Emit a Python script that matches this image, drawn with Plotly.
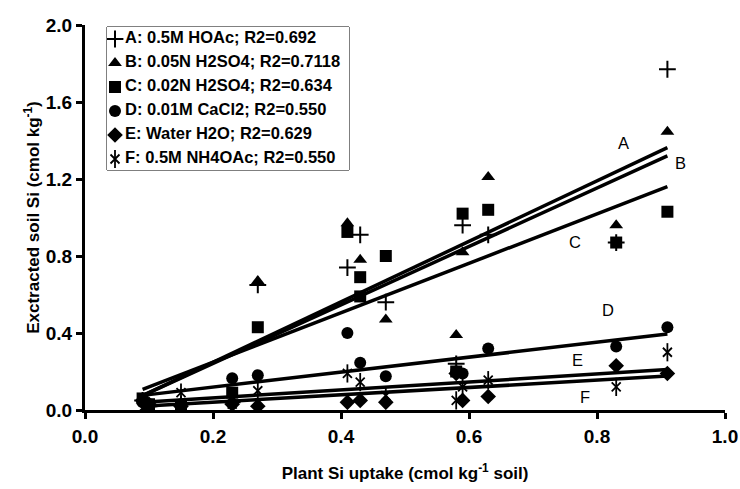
import plotly.graph_objects as go

# ---- data ----
uptake = [0.09, 0.10, 0.15, 0.23, 0.27, 0.41, 0.43, 0.47, 0.58, 0.59, 0.63, 0.83, 0.91]
series_names = ["A: 0.5M HOAc; R2=0.692",
                "B: 0.05N H2SO4; R2=0.7118",
                "C: 0.02N H2SO4; R2=0.634",
                "D: 0.01M CaCl2; R2=0.550",
                "E: Water H2O; R2=0.629",
                "F: 0.5M NH4OAc; R2=0.550"]
a_hoac   = [0.05, 0.02, 0.03, 0.04, 0.65, 0.74, 0.91, 0.56, 0.24, 0.96, 0.91, 0.87, 1.77]
b_h2so4  = [0.05, 0.03, 0.03, 0.05, 0.67, 0.97, 0.78, 0.47, 0.39, 0.82, 1.21, 0.96, 1.445]
c_h2so4  = [0.06, 0.03, 0.02, 0.09, 0.43, 0.925, 0.69, 0.80, 0.20, 1.02, 1.04, 0.87, 1.03]
d_cacl2  = [0.04, 0.03, 0.03, 0.165, 0.18, 0.40, 0.245, 0.175, 0.20, 0.19, 0.32, 0.33, 0.43]
e_water  = [0.05, 0.03, 0.02, 0.03, 0.02, 0.04, 0.05, 0.04, 0.19, 0.05, 0.07, 0.23, 0.19]
f_nh4oac = [0.01, 0.01, 0.09, 0.03, 0.10, 0.19, 0.145, 0.075, 0.05, 0.12, 0.155, 0.12, 0.30]
# C has one extra point near x=0.43
c_extra_x = [0.43]
c_extra_y = [0.59]

# fitted lines (value at min and max uptake)
fit_x = [0.09, 0.91]
fit_start = [0.075, 0.075, 0.107, 0.076, 0.04, 0.02]
fit_end   = [1.363, 1.32, 1.16, 0.395, 0.21, 0.176]
line_labels = ["A", "B", "C", "D", "E", "F"]
label_x = [0.842, 0.931, 0.766, 0.817, 0.769, 0.781]
label_y = [1.387, 1.283, 0.873, 0.52, 0.26, 0.068]

x_ticks = [0.0, 0.2, 0.4, 0.6, 0.8, 1.0]
y_ticks = [0.0, 0.4, 0.8, 1.2, 1.6, 2.0]

FONT = "Arial, Liberation Sans, sans-serif"
fig = go.Figure()

# regression lines
for i in range(6):
    fig.add_trace(go.Scatter(x=fit_x, y=[fit_start[i], fit_end[i]], mode="lines",
                             line=dict(color="black", width=3.5), showlegend=False,
                             hoverinfo="skip"))

ys = [a_hoac, b_h2so4, c_h2so4, d_cacl2, e_water, f_nh4oac]
symbols = ["cross-thin-open", "triangle-up", "square", "circle", "diamond", "x-thin-open"]
sizes = [12, 12, 12, 12, 12, 9]
lw = [2, 0, 0, 0, 0, 1.8]


def add_series(i, xs, yv, xa="x", ya="y"):
    fig.add_trace(go.Scatter(
        x=xs, y=yv, mode="markers", showlegend=False, xaxis=xa, yaxis=ya,
        marker=dict(symbol=symbols[i], size=sizes[i], color="black",
                    line=dict(color="black", width=lw[i]))))
    if i == 5:
        fig.add_trace(go.Scatter(
            x=xs, y=yv, mode="markers", showlegend=False, xaxis=xa, yaxis=ya,
            marker=dict(symbol="line-ns-open", size=13, color="black",
                        line=dict(color="black", width=1.8))))


for i in range(6):
    xs = list(uptake)
    yv = list(ys[i])
    if i == 2:
        xs += c_extra_x
        yv += c_extra_y
    add_series(i, xs, yv)

# ---- legend drawn in an inset axis (row index based) ----
rows = list(range(len(series_names)))
for i in rows:
    add_series(i, [8], [i + 0.5], "x2", "y2")
fig.add_trace(go.Scatter(
    x=[18] * len(rows), y=[r + 0.5 for r in rows], mode="text", text=series_names,
    textposition="middle right", showlegend=False, xaxis="x2", yaxis="y2",
    textfont=dict(family=FONT, size=16.5, color="black", weight="bold")))
fig.add_shape(type="rect", xref="x2 domain", yref="y2 domain", x0=0, x1=1, y0=0, y1=1,
              line=dict(color="black", width=1), fillcolor="white", layer="below")

for i in range(6):
    fig.add_annotation(x=label_x[i], y=label_y[i], text=line_labels[i], showarrow=False,
                       font=dict(family=FONT, size=16.5, color="black"))

fig.update_layout(
    width=740, height=489,
    margin=dict(l=85, r=15, t=25, b=79),
    paper_bgcolor="white", plot_bgcolor="white",
    font=dict(family=FONT, color="black"),
    showlegend=False,
    xaxis=dict(range=[0, 1], tickvals=x_ticks, ticktext=[f"{v:.1f}" for v in x_ticks],
               showgrid=False, zeroline=False, showline=True, linecolor="black", linewidth=3,
               ticks="outside", ticklen=6, tickwidth=3, tickcolor="black", automargin=False,
               ticklabelstandoff=1,
               tickfont=dict(family=FONT, size=19, color="black", weight="bold"),
               title=dict(text="Plant Si uptake (cmol kg<sup>-1</sup> soil)", standoff=22,
                          font=dict(family=FONT, size=17, color="black", weight="bold"))),
    yaxis=dict(range=[0, 2], tickvals=y_ticks, ticktext=[f"{v:.1f}" for v in y_ticks],
               showgrid=False, zeroline=False, showline=True, linecolor="black", linewidth=3,
               ticks="outside", ticklen=6, tickwidth=3, tickcolor="black", automargin=False,
               ticklabelstandoff=0,
               tickfont=dict(family=FONT, size=19, color="black", weight="bold"),
               title=dict(text="Exctracted soil Si (cmol kg<sup>-1</sup>)", standoff=2,
                          font=dict(family=FONT, size=17, color="black", weight="bold"))),
    xaxis2=dict(domain=[22 / 640, 264 / 640], range=[0, 242], visible=False, fixedrange=True),
    yaxis2=dict(domain=[240 / 385, 383 / 385], range=[143 / 24, 0], visible=False,
                fixedrange=True, anchor="x2"),
)
fig.layout.xaxis2.anchor = "y2"

fig.write_html("out.html", config={"displayModeBar": False},
               post_script="document.body.style.margin='0';document.body.style.padding='0';")
